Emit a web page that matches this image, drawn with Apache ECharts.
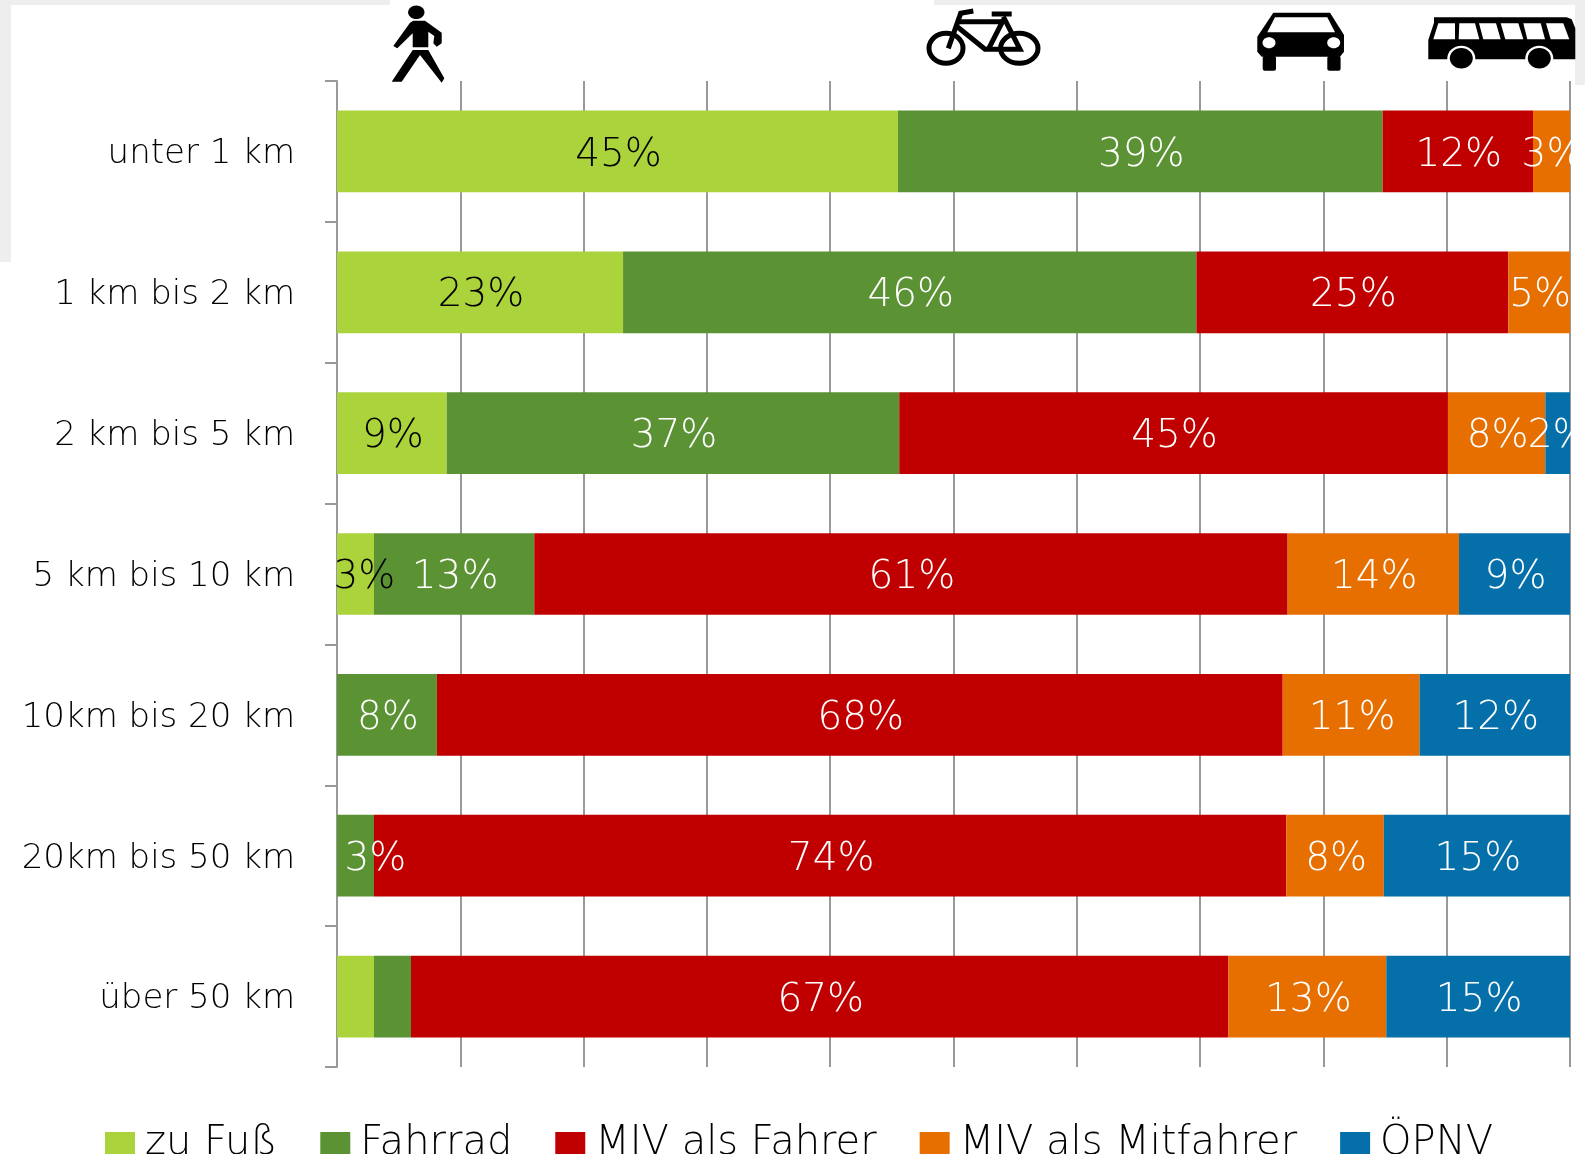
<!DOCTYPE html>
<html>
<head>
<meta charset="utf-8">
<style>html,body{margin:0;padding:0;background:#fff}#main{width:1585px;height:1158px}</style>
<script src="https://cdn.jsdelivr.net/npm/echarts@6/dist/echarts.min.js"></script>
</head>
<body>
<div id="main"></div>
<script>
const categories = ["unter 1 km", "1 km bis 2 km", "2 km bis 5 km", "5 km bis 10 km", "10km bis 20 km", "20km bis 50 km", "über 50 km"];
const seriesNames = ["zu Fuß", "Fahrrad", "MIV als Fahrer", "MIV als Mitfahrer", "ÖPNV"];
const colors = ["#ABD33C", "#5B9234", "#C00000", "#E66F00", "#046FA8"];
const textColors = ["#000", "#fff", "#fff", "#fff", "#fff"];

const zuFuss = [45.5, 23.2, 8.9, 3.0, 0, 0, 3.0];
const fahrrad = [39.3, 46.5, 36.7, 13.0, 8.1, 3.0, 3.0];
const fahrer = [12.2, 25.3, 44.5, 61.1, 68.6, 74.0, 66.3];
const mitfahrer = [3.0, 5.0, 7.9, 13.9, 11.1, 7.9, 12.8];
const oepnv = [0, 0, 2.0, 9.0, 12.2, 15.1, 14.9];

// printed labels, the picture rounds them and leaves some out
const zuFussLabels = ["45%", "23%", "9%", "3%", "", "", ""];
const fahrradLabels = ["39%", "46%", "37%", "13%", "8%", "3%", ""];
const fahrerLabels = ["12%", "25%", "45%", "61%", "68%", "74%", "67%"];
const mitfahrerLabels = ["3%", "5%", "8%", "14%", "11%", "8%", "13%"];
const oepnvLabels = ["", "", "2%", "9%", "12%", "15%", "15%"];

const values = [zuFuss, fahrrad, fahrer, mitfahrer, oepnv];
const labels = [zuFussLabels, fahrradLabels, fahrerLabels, mitfahrerLabels, oepnvLabels];

const font = "'DejaVu Sans ExtraLight','DejaVu Sans Light','DejaVu Sans'";
const black = { fill: "#000" };
const white = { fill: "#fff" };
const frame = { fill: "#eeeeee" };
const bikeLine = { fill: "none", stroke: "#000", lineWidth: 5 };

function poly(points, style) {
  return { type: "polygon", shape: { points: points }, style: style };
}
function line(points) {
  return { type: "polyline", shape: { points: points }, style: bikeLine };
}
function oval(cx, cy, rx, ry, style) {
  return { type: "ellipse", shape: { cx: cx, cy: cy, rx: rx, ry: ry }, style: style };
}
function box(x, y, width, height, style, r) {
  return { type: "rect", shape: { x: x, y: y, width: width, height: height, r: r || 0 }, style: style };
}

const backdrop = [
  box(0, 0, 11, 262, frame),
  box(0, 0, 390, 5, frame),
  box(934, 0, 651, 5, frame),
  box(1575, 0, 10, 143, frame)
];

const walker = [
  oval(416.3, 12.3, 8.2, 6.8, black),
  poly([[413.3, 20.7], [425, 20.7], [441.7, 32.7], [441.7, 43.3], [436.7, 46.7], [433.3, 43.3], [434.3, 36], [428.3, 31.7], [428.3, 47.3], [412.7, 47.3], [412.7, 33.3], [397.3, 48.3], [393.3, 46], [410, 22.7]], black),
  poly([[412.7, 50], [428.3, 50], [444.3, 78.3], [441.7, 82.7], [420, 55], [401.7, 81.7], [391.7, 81.7]], black)
];

const bike = [
  oval(946, 48.3, 17, 15, bikeLine),
  oval(1019.3, 48.3, 18.7, 15, bikeLine),
  line([[948.3, 48.3], [960.7, 13.3], [973.3, 11]]),
  line([[956, 21.7], [1003.3, 21.7]]),
  line([[957.3, 26.7], [985, 49.3], [1020, 49.3], [1003.3, 16.7]]),
  line([[988.3, 49.3], [1003.3, 20]]),
  line([[991.7, 14], [1011.7, 14]])
];

const car = [
  poly([[1273.3, 12.7], [1330, 12.7], [1344, 35], [1344, 51.7], [1340, 56.7], [1261.7, 56.7], [1257.3, 51.7], [1257.3, 36.7]], black),
  poly([[1275, 17.3], [1327.3, 17.3], [1335, 32.3], [1267.3, 32.3]], white),
  oval(1269, 42.7, 6.5, 5.5, white),
  oval(1333.7, 42.7, 6.5, 5.5, white),
  box(1262.7, 56, 13.3, 14.7, black, 2),
  box(1327.3, 56, 13.3, 14.7, black, 2)
];

const bus = [
  poly([[1434, 17.3], [1566.7, 17.3], [1571.7, 19.3], [1575.3, 28.3], [1575.3, 59.3], [1428.3, 59.3], [1428.3, 40], [1434, 22.7]], black),
  poly([[1438.3, 23.3], [1455, 23.3], [1455, 39.3], [1433.3, 39.3]], white),
  poly([[1459.3, 23.3], [1475, 23.3], [1479.3, 39.3], [1458.7, 39.3]], white),
  poly([[1479, 23.3], [1496, 23.3], [1500.7, 39.3], [1483.3, 39.3]], white),
  poly([[1500.7, 23.3], [1518.3, 23.3], [1523.3, 39.3], [1505.3, 39.3]], white),
  poly([[1523.3, 23.3], [1540.7, 23.3], [1545, 39.3], [1527.3, 39.3]], white),
  poly([[1546, 23.3], [1563.3, 23.3], [1569.3, 39.3], [1550.7, 39.3]], white),
  oval(1461.3, 58.3, 14, 12.5, white),
  oval(1539.3, 58.3, 14, 12.5, white),
  oval(1461.3, 58.3, 11.5, 10.3, black),
  oval(1539.3, 58.3, 11.5, 10.3, black)
];

// the picture is cut off on the right and at the bottom
const cuts = [
  box(1572.5, 85, 13, 1000, white),
  box(0, 1154, 1585, 4, white)
];

// two small labels sit off centre in the picture
function labelShift(s, d) {
  if (s === 0 && d === 3) return 9;
  if (s === 1 && d === 5) return 20;
  return 1;
}

const chart = echarts.init(document.getElementById("main"));

chart.setOption({
  animation: false,
  backgroundColor: "#fff",
  grid: { left: 337, top: 81, width: 1233, height: 986 },
  legend: {
    left: 100,
    top: 1119,
    icon: "rect",
    itemWidth: 30,
    itemHeight: 24,
    itemGap: 43,
    selectedMode: false,
    data: seriesNames,
    textStyle: { fontFamily: font, fontWeight: 200, fontSize: 40, color: "#000", padding: [10, 0, 0, 5] }
  },
  xAxis: {
    type: "value",
    min: 0,
    max: 100,
    interval: 10,
    axisLabel: { show: false },
    axisLine: { show: false },
    axisTick: { show: false },
    splitLine: { lineStyle: { color: "#999", width: 2 } }
  },
  yAxis: {
    type: "category",
    inverse: true,
    data: categories,
    axisLine: { lineStyle: { color: "#999", width: 2 } },
    axisTick: { show: true, length: 12, lineStyle: { color: "#999", width: 2 } },
    axisLabel: {
      margin: 42,
      formatter: "{cat|{value}}",
      rich: {
        cat: { fontFamily: font, fontWeight: 200, fontSize: 34, color: "#000", padding: [6, 0, 0, 0] }
      }
    }
  },
  series: seriesNames.map((name, i) => ({
    name: name,
    type: "bar",
    stack: "modal",
    barCategoryGap: "42%",
    itemStyle: { color: colors[i] },
    label: {
      show: true,
      position: "inside",
      fontFamily: font,
      fontWeight: 200,
      fontSize: 39,
      color: textColors[i],
      formatter: (p) => labels[i][p.dataIndex]
    },
    data: values[i].map((v, d) => ({ value: v, label: { offset: [labelShift(i, d), 4] } }))
  })),
  graphic: {
    elements: [].concat(backdrop, walker, bike, car, bus, cuts).map((el) => Object.assign(el, { z: 100, silent: true }))
  }
});
</script>
</body>
</html>
